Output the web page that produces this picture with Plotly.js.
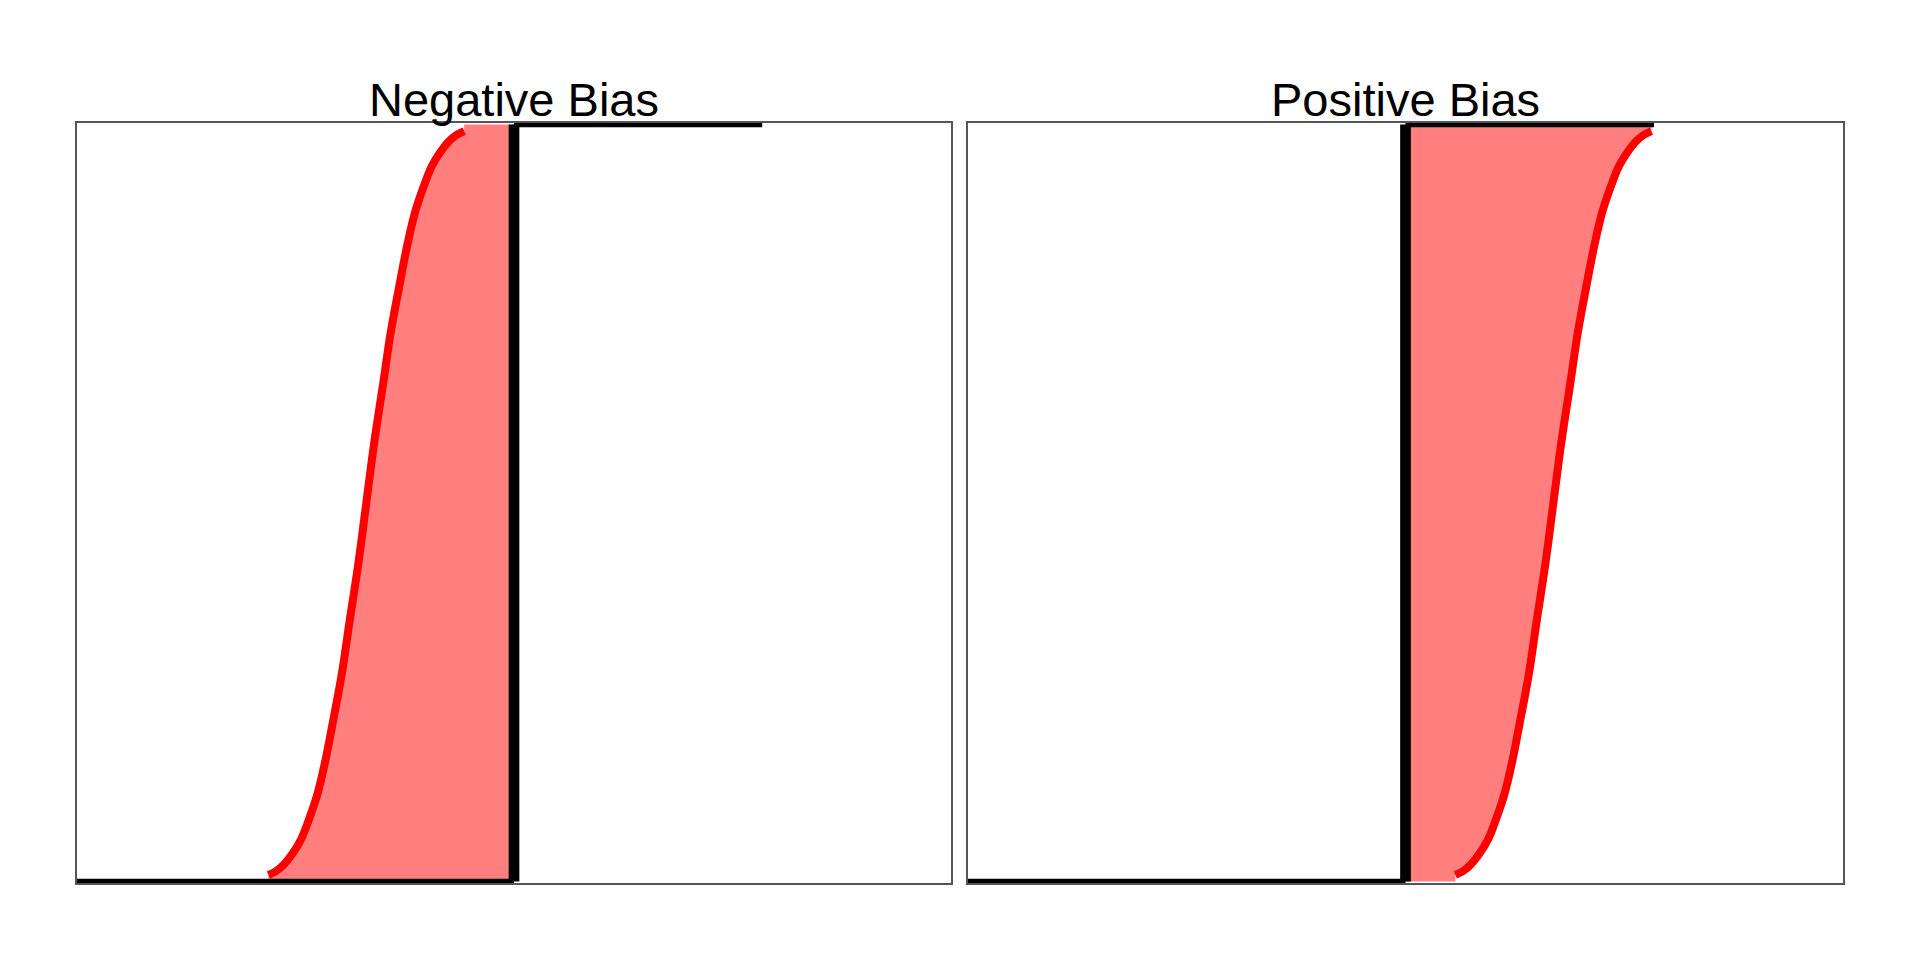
<!DOCTYPE html>
<html>
<head>
<meta charset="utf-8">
<script src="https://cdn.plot.ly/plotly-3.0.1.min.js"></script>
<style>html,body{margin:0;padding:0;background:#fff;}#chart{width:1920px;height:960px;}</style>
</head>
<body>
<div id="chart"></div>
<script>
// ---- data ----
const panelTitles = ["Negative Bias", "Positive Bias"];
const observation = 5.0;          // observed value (black step)
const gridStart = 0.0;            // start of the black step line
const gridEnd = 7.84;             // end of the black step line
// forecast CDF (red curve), negative-bias panel
const negX = [2.19,2.28,2.37,2.46,2.56,2.65,2.75,2.84,2.93,3.03,3.12,3.22,3.31,3.40,3.50,3.59,3.69,3.78,3.87,3.97,4.06,4.16,4.25,4.34,4.43];
// forecast CDF (red curve), positive-bias panel
const posX = [5.57,5.66,5.75,5.84,5.94,6.03,6.13,6.22,6.31,6.41,6.50,6.60,6.69,6.78,6.88,6.97,7.07,7.16,7.25,7.35,7.44,7.54,7.63,7.72,7.81];
// cumulative probability at those points (same for both panels)
const cdfY = [0.0087,0.0139,0.0228,0.0359,0.0548,0.0808,0.1151,0.1587,0.2119,0.2743,0.3446,0.4207,0.5,0.5793,0.6554,0.7257,0.7881,0.8413,0.8849,0.9192,0.9452,0.9641,0.9772,0.9861,0.9913];

// ---- styles ----
const RED = "#ff0000";
const FILL = "rgba(255,0,0,0.5)";
const BLACK = "#000000";

function panelTraces(curveX, xa, ya, side) {
  const last = curveX.length - 1;
  let fx, fy;
  if (side === "neg") {
    fx = [curveX[0]].concat(curveX, [curveX[last], observation, observation]);
    fy = [0].concat(cdfY, [1, 1, 0]);
  } else {
    fx = [observation, curveX[0]].concat(curveX, [curveX[last], observation]);
    fy = [0, 0].concat(cdfY, [1, 1]);
  }
  return [
    {x: fx, y: fy, xaxis: xa, yaxis: ya, mode: "lines", fill: "toself",
     fillcolor: FILL, line: {width: 0, color: FILL}, hoverinfo: "skip"},
    {x: curveX, y: cdfY, xaxis: xa, yaxis: ya, mode: "lines",
     line: {color: RED, width: 8, shape: "spline"}, hoverinfo: "skip"},
    {x: [gridStart, observation, null, observation, gridEnd], y: [0, 0, null, 1, 1],
     xaxis: xa, yaxis: ya, mode: "lines", line: {color: BLACK, width: 5.3}, hoverinfo: "skip"},
    {x: [observation, observation], y: [0, 1], xaxis: xa, yaxis: ya, mode: "lines",
     line: {color: BLACK, width: 10.7}, hoverinfo: "skip"}
  ];
}

const data = panelTraces(negX, "x", "y", "neg").concat(panelTraces(posX, "x2", "y2", "pos"));

const W = 1920, H = 960;
const axBase = {showline: true, mirror: true, linecolor: "#555555", linewidth: 2,
  showticklabels: false, ticks: "", showgrid: false, zeroline: false, fixedrange: true};
const yDom = [1 - 883 / H, 1 - 123 / H];
const xDom1 = [77 / W, 951 / W];
const xDom2 = [968 / W, 1843 / W];
const yRange = [-0.002, 1.002];
const titleFont = {family: "Liberation Sans, Arial, sans-serif", size: 47, color: "#000"};

const layout = {
  width: W, height: H,
  margin: {l: 0, r: 0, t: 0, b: 0},
  paper_bgcolor: "#ffffff", plot_bgcolor: "#ffffff",
  showlegend: false,
  xaxis: Object.assign({}, axBase, {domain: xDom1, range: [0, 10]}),
  yaxis: Object.assign({}, axBase, {domain: yDom, range: yRange}),
  xaxis2: Object.assign({}, axBase, {domain: xDom2, range: [0, 10], anchor: "y2"}),
  yaxis2: Object.assign({}, axBase, {domain: yDom, range: yRange, anchor: "x2"}),
  annotations: [
    {text: panelTitles[0], xref: "paper", yref: "paper", x: (xDom1[0] + xDom1[1]) / 2,
     y: 1 - 100 / H, xanchor: "center", yanchor: "middle", showarrow: false, font: titleFont},
    {text: panelTitles[1], xref: "paper", yref: "paper", x: (xDom2[0] + xDom2[1]) / 2,
     y: 1 - 100 / H, xanchor: "center", yanchor: "middle", showarrow: false, font: titleFont}
  ]
};

Plotly.newPlot("chart", data, layout, {staticPlot: true, displayModeBar: false});
</script>
</body>
</html>
